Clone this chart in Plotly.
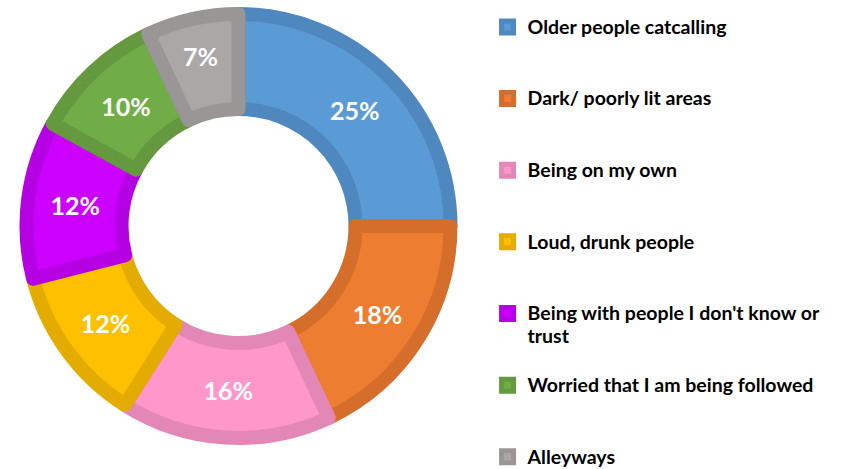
import plotly.graph_objects as go

# Survey answers: what makes people feel unsafe
categories = [
    "Older people catcalling",
    "Dark/ poorly lit areas",
    "Being on my own",
    "Loud, drunk people",
    "Being with people I don't know or<br>trust",
    "Worried that I am being followed",
    "Alleyways",
]
shares = [25, 18, 16, 12, 12, 10, 7]

fill_colors = ["#5B9BD5", "#ED7D31", "#FF97CA", "#FFC000", "#CC00FF", "#70AD47", "#ABA7A6"]
edge_colors = ["#4F88BF", "#D56E2A", "#E387B6", "#E4AB00", "#B600E4", "#64993F", "#9A9695"]

LEGEND_PX = 19.5


def legend_entry(text, last=False):
    # pad each entry to three lines so the legend rows are evenly spaced
    n_lines = text.count("<br>") + 1
    pad = "" if last else "<br> " * (3 - n_lines)
    return f"<span style='font-size:{LEGEND_PX}px'>{text}</span>{pad}"


legend_labels = [legend_entry(c, i == len(categories) - 1) for i, c in enumerate(categories)]

W, H = 845, 469
cx, cy = 238.5, 226.0      # ring centre (px from left / top)
ring_r = 219.0             # outer edge of the ring
hole_r = 110.0             # inner edge of the ring
edge_w = 14                # slice outline width

R = ring_r - edge_w / 2
hole = (hole_r + edge_w / 2) / R

fig = go.Figure(
    go.Pie(
        labels=legend_labels,
        values=shares,
        sort=False,
        direction="clockwise",
        rotation=0,
        hole=hole,
        marker=dict(colors=fill_colors, line=dict(color=edge_colors, width=edge_w)),
        texttemplate="%{value}%",
        textposition="inside",
        insidetextorientation="horizontal",
        textfont=dict(family="Lato", size=25, color="white", weight="bold"),
        hoverinfo="skip",
        domain=dict(
            x=[(cx - R) / W, (cx + R) / W],
            y=[(H - cy - R) / H, (H - cy + R) / H],
        ),
    )
)

fig.update_layout(
    width=W,
    height=H,
    margin=dict(l=0, r=0, t=0, b=0, autoexpand=False),
    paper_bgcolor="white",
    plot_bgcolor="white",
    showlegend=True,
    legend=dict(
        x=0.577,
        xanchor="left",
        y=1 - 9 / H,
        yanchor="top",
        valign="top",
        font=dict(family="Lato", size=17.6, color="black", weight="bold"),
        bgcolor="rgba(0,0,0,0)",
        maxheight=2000,
    ),
)

fig.write_html("out.html")
